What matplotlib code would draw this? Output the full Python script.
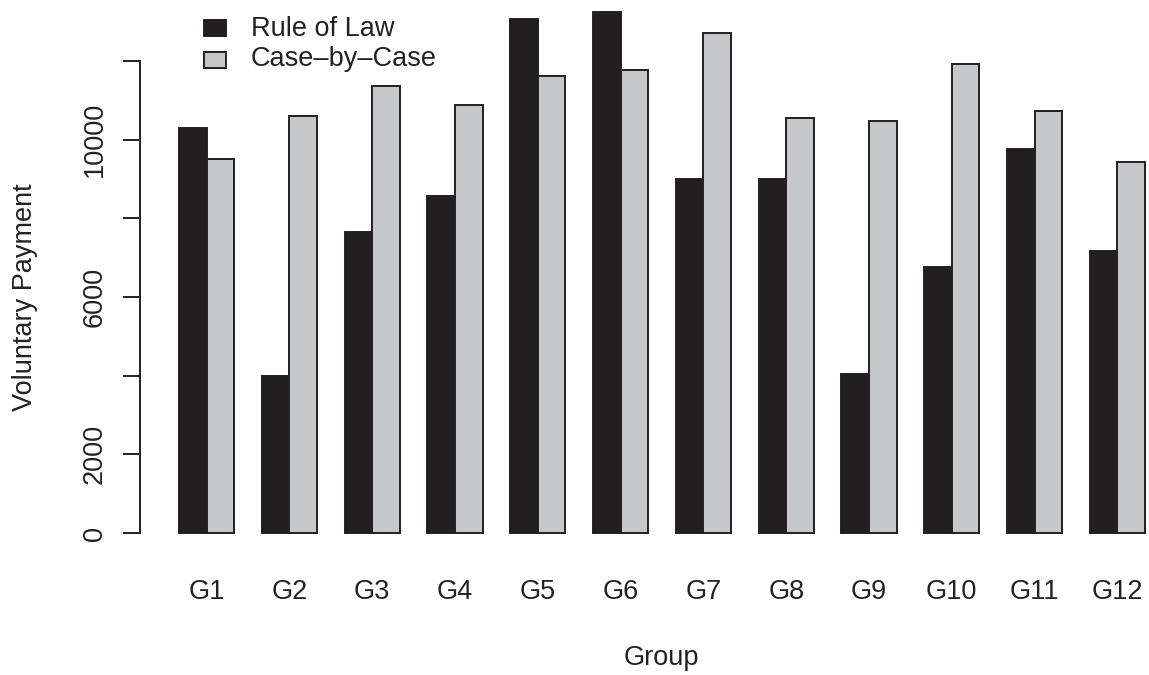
import matplotlib
matplotlib.use("Agg")
import matplotlib.pyplot as plt
from matplotlib.patches import Rectangle
import numpy as np

# ---- data -------------------------------------------------------------
groups = ["G1", "G2", "G3", "G4", "G5", "G6",
          "G7", "G8", "G9", "G10", "G11", "G12"]
rule_of_law = [10300, 4000, 7640, 8570, 13060, 13250,
               8990, 8990, 4050, 6760, 9750, 7170]
case_by_case = [9520, 10600, 11370, 10880, 11610, 11760,
                12720, 10560, 10480, 11920, 10720, 9440]
series_labels = ["Rule of Law", "Case\u2013by\u2013Case"]
y_ticks = [0, 2000, 4000, 6000, 8000, 10000, 12000]
y_tick_labels = ["0", "2000", "", "6000", "", "10000", ""]
x_label = "Group"
y_label = "Voluntary Payment"

# ---- style ------------------------------------------------------------
DARK = "#231F20"
LIGHT = "#C6C7C8"
EDGE = "#231F20"
FONT = "Liberation Sans"
FS = 19.5
LW = 1.4

plt.rcParams["font.family"] = [FONT, "DejaVu Sans"]

W, H, DPI = 1149, 675, 100
fig = plt.figure(figsize=(W / DPI, H / DPI), dpi=DPI)


def box(x0, y0, x1, y1):
    """Pixel box (top-left origin) -> figure-fraction rect."""
    return [x0 / W, 1 - y1 / H, (x1 - x0) / W, (y1 - y0) / H]


ax = fig.add_axes(box(140.4, 42.1, 1183.6, 551.9))
ax.set_xlim(-0.4, 37.4)
ax.set_ylim(-480, 12480)

n = len(groups)
idx = np.arange(n)
left_rol = 1 + 3 * idx
left_cbc = 2 + 3 * idx
bars_rol = ax.bar(left_rol, rule_of_law, width=1.0, align="edge",
                  color=DARK, edgecolor=EDGE, linewidth=LW, clip_on=False)
bars_cbc = ax.bar(left_cbc, case_by_case, width=1.0, align="edge",
                  color=LIGHT, edgecolor=EDGE, linewidth=LW, clip_on=False)

# axes decorations
for s in ("top", "right", "bottom"):
    ax.spines[s].set_visible(False)
ax.spines["left"].set_bounds(y_ticks[0], y_ticks[-1])
ax.spines["left"].set_linewidth(LW)
ax.spines["left"].set_color("#222222")

ax.set_yticks(y_ticks)
ax.set_yticklabels(y_tick_labels)
ax.tick_params(axis="y", length=12, width=LW, color="#222222", pad=15.6,
               labelsize=FS, labelcolor="#222222")
for lab in ax.get_yticklabels():
    lab.set_rotation(90)
    lab.set_rotation_mode("anchor")
    lab.set_ha("center")
    lab.set_va("baseline")

ax.set_xticks(2 + 3 * idx)
ax.set_xticklabels(groups)
ax.tick_params(axis="x", length=0, pad=34.1, labelsize=FS, labelcolor="#222222")
for lab in ax.get_xticklabels():
    lab.set_va("baseline")

# axis titles
fig.text(32 / W, 1 - 297 / H, y_label, rotation=90, rotation_mode="anchor",
         ha="center", va="baseline", fontsize=FS, color="#222222")
fig.text(661 / W, 1 - 665 / H, x_label, ha="center", va="baseline",
         fontsize=FS, color="#222222")

# legend
legend_rows = [(28, 35.5), (60, 66.5)]
for (cy, base), lab, col in zip(legend_rows, series_labels, (DARK, LIGHT)):
    x0, x1 = 204, 226
    y0, y1 = cy - 8, cy + 8
    fig.add_artist(Rectangle((x0 / W, 1 - y1 / H), (x1 - x0) / W, (y1 - y0) / H,
                             transform=fig.transFigure, facecolor=col,
                             edgecolor=EDGE, linewidth=LW))
    fig.text(251 / W, 1 - base / H, lab, ha="left", va="baseline",
             fontsize=FS, color="#222222")

fig.savefig("out.png", dpi=DPI)
